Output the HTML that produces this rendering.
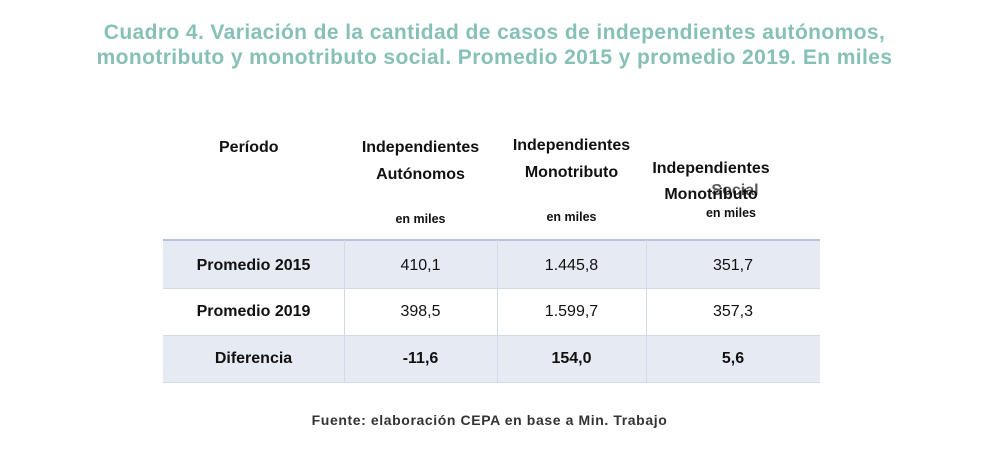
<!DOCTYPE html>
<html><head><meta charset="utf-8"><style>
body{margin:0;width:989px;height:449px;background:#fff;position:relative;overflow:hidden;font-family:"Liberation Sans",sans-serif;}
.t{position:absolute;white-space:nowrap;}
.title{left:0;width:989px;text-align:center;color:#86c0b6;font-size:21px;font-weight:bold;letter-spacing:0.4px;}
.h{font-weight:bold;font-size:16px;color:#111;text-align:center;}
.s{font-weight:bold;font-size:12.5px;color:#111;text-align:center;}
.row{position:absolute;left:163px;width:657px;}
.c{position:absolute;font-size:16px;color:#111;text-align:center;}
.vl{position:absolute;width:1px;background:#d2d9e8;top:240px;height:143px;}
</style></head><body>
<div class="t title" style="top:21px">Cuadro 4. Variación de la cantidad de casos de independientes autónomos,</div>
<div class="t title" style="top:46px">monotributo y monotributo social. Promedio 2015 y promedio 2019. En miles</div>

<div class="t h" style="left:219px;top:139px">Período</div>
<div class="t h" style="left:344px;width:153px;top:139px">Independientes</div>
<div class="t h" style="left:344px;width:153px;top:166px">Autónomos</div>
<div class="t h" style="left:497px;width:149px;top:137px">Independientes</div>
<div class="t h" style="left:497px;width:149px;top:164px">Monotributo</div>
<div class="t h" style="left:646px;width:130px;top:160px">Independientes</div>
<div class="t h" style="left:646px;width:130px;top:186px">Monotributo</div>
<div class="t h" style="left:695px;width:80px;top:182px;opacity:.7">Social</div>
<div class="t s" style="left:344px;width:153px;top:212px">en miles</div>
<div class="t s" style="left:497px;width:149px;top:210px">en miles</div>
<div class="t s" style="left:646px;width:170px;top:206px">en miles</div>

<div class="row" style="top:239px;height:2px;background:#b7c3dc"></div>
<div class="row" style="top:241px;height:47px;background:#e6eaf3"></div>
<div class="row" style="top:288px;height:1px;background:#d2d9e8"></div>
<div class="row" style="top:335px;height:1px;background:#d2d9e8"></div>
<div class="row" style="top:336px;height:46px;background:#e6eaf3"></div>
<div class="row" style="top:382px;height:1px;background:#d2d9e8"></div>
<div class="vl" style="left:344px"></div>
<div class="vl" style="left:497px"></div>
<div class="vl" style="left:646px"></div>

<div class="c" style="left:163px;width:181px;top:257px;font-weight:bold">Promedio 2015</div>
<div class="c" style="left:344px;width:153px;top:257px">410,1</div>
<div class="c" style="left:497px;width:149px;top:257px">1.445,8</div>
<div class="c" style="left:646px;width:174px;top:257px">351,7</div>
<div class="c" style="left:163px;width:181px;top:303px;font-weight:bold">Promedio 2019</div>
<div class="c" style="left:344px;width:153px;top:303px">398,5</div>
<div class="c" style="left:497px;width:149px;top:303px">1.599,7</div>
<div class="c" style="left:646px;width:174px;top:303px">357,3</div>
<div class="c" style="left:163px;width:181px;top:350px;font-weight:bold">Diferencia</div>
<div class="c" style="left:344px;width:153px;top:350px;font-weight:bold">-11,6</div>
<div class="c" style="left:497px;width:149px;top:350px;font-weight:bold">154,0</div>
<div class="c" style="left:646px;width:174px;top:350px;font-weight:bold">5,6</div>

<div class="t" style="left:0;width:979px;text-align:center;top:412px;font-size:14px;letter-spacing:0.6px;font-weight:bold;color:#333">Fuente: elaboración CEPA en base a Min. Trabajo</div>
</body></html>
